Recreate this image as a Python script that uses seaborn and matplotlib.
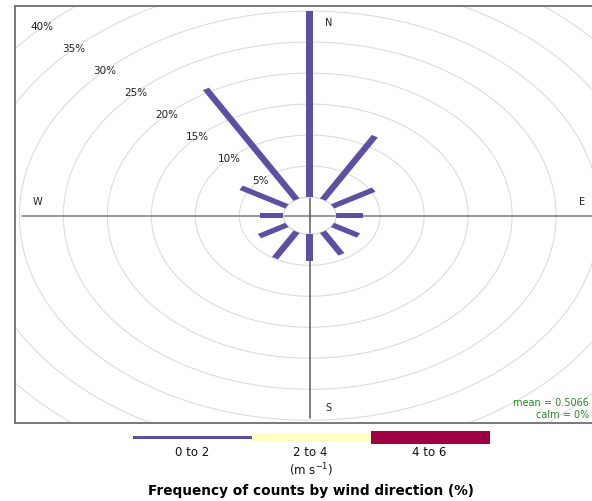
import numpy as np
import pandas as pd
import matplotlib
matplotlib.use("Agg")
import matplotlib.pyplot as plt
import seaborn as sns
from matplotlib.patches import Rectangle

# wind rose data: all observations fall in the 0-2 m/s bin
directions = [0, 30, 60, 90, 120, 150, 180, 210, 240, 270, 300, 330]
freq_0_2 = [30.0, 11.8, 5.4, 3.0, 3.4, 4.2, 4.3, 4.9, 3.6, 2.7, 6.0, 20.6]
speed_bins = ["0 to 2", "2 to 4", "4 to 6"]
bin_colors = ["#5E4FA2", "#FFFFBF", "#9E0142"]
ring_pcts = [5, 10, 15, 20, 25, 30, 35, 40]
mean_ws = "0.5066"
calm_pct = "0%"

sns.set_theme(style="white")
plt.rcParams['font.family'] = ['DejaVu Sans']

data = pd.DataFrame({"dir": directions, "freq": freq_0_2})

offset = 3.0     # hole in the middle
mymax = 31.0
half_w = 0.4     # paddle half width

fig = plt.figure(figsize=(5.92, 5.01), dpi=100)
ax = fig.add_axes([15 / 592, 78 / 501, 593 / 592, 417 / 501])
ax.set_xlim(-33.5, 33.9)
ax.set_ylim(-33.44, 33.82)
ax.set_xticks([])
ax.set_yticks([])
for sp in ax.spines.values():
    sp.set_color("#6e6e6e")
    sp.set_linewidth(1.3)

theta = np.linspace(0, 2 * np.pi, 721)
for p in ring_pcts + [45, 50]:
    r = offset + p
    ax.plot(r * np.sin(theta), r * np.cos(theta), color="#dcdcdc", lw=0.8, zorder=1)

# axis lines
ax.plot([-mymax * 1.055, mymax * 1.1], [0, 0], color="#7a7a7a", lw=1.1, zorder=2)
ax.plot([0, 0], [-mymax * 1.055, mymax * 1.055], color="#5a5a5a", lw=1.1, zorder=2)

# paddles
for _, row in data.iterrows():
    a = np.deg2rad(row["dir"])
    u = np.array([np.sin(a), np.cos(a)])
    pv = np.array([np.cos(a), -np.sin(a)])
    r1 = offset + row["freq"]
    pts = [offset * u + half_w * pv, r1 * u + half_w * pv,
           r1 * u - half_w * pv, offset * u - half_w * pv]
    xs = [q[0] for q in pts]
    ys = [q[1] for q in pts]
    ax.fill(xs, ys, color=bin_colors[0], lw=0, zorder=3)

# hole outline
ax.plot(offset * np.sin(theta), offset * np.cos(theta), color="#d6d6d6", lw=0.9, zorder=2)

# ring labels along 315 deg
for p in ring_pcts:
    r = offset + p
    ax.text(-r * np.sqrt(0.5), r * np.sqrt(0.5), f"{p}%", fontsize=7.5,
            color="#222222", ha="center", va="center", zorder=4)

ax.text(0.07 * mymax, mymax, "N", fontsize=7, color="#222222", ha="center", va="center")
ax.text(0.07 * mymax, -mymax, "S", fontsize=7, color="#222222", ha="center", va="center")
ax.text(mymax, 0.07 * mymax, "E", fontsize=7, color="#222222", ha="center", va="center")
ax.text(-mymax, 0.07 * mymax, "W", fontsize=7, color="#222222", ha="center", va="center")

# stats text, kept inside the visible canvas
fig.text(589 / 592, 1 - 403 / 501, f"mean = {mean_ws}", fontsize=7, color="#228B22",
         ha="right", va="center")
fig.text(589 / 592, 1 - 415 / 501, f"calm = {calm_pct}", fontsize=7, color="#228B22",
         ha="right", va="center")

# key
kax = fig.add_axes([133 / 592, (501 - 445) / 501, 357 / 592, 16 / 501])
kax.set_xlim(0, 3)
kax.set_ylim(-8, 8)
kax.axis("off")
heights = [3, 8, 13]
for i, (lab, col) in enumerate(zip(speed_bins, bin_colors)):
    kax.add_patch(Rectangle((i, -heights[i] / 2), 1, heights[i], facecolor=col, edgecolor="none"))
    fig.text((192 + i * 118.5) / 592, 1 - 452 / 501, lab, fontsize=8.5,
             ha="center", va="center", color="#111111")

fig.text(311 / 592, 1 - 470 / 501, r"(m s$^{-1}$)", fontsize=8.5, ha="center", va="center",
         color="#111111")
fig.text(311 / 592, 1 - 491 / 501, "Frequency of counts by wind direction (%)", fontsize=9.8,
         fontweight="bold", ha="center", va="center", color="black")

fig.savefig("out.png", dpi=100)
